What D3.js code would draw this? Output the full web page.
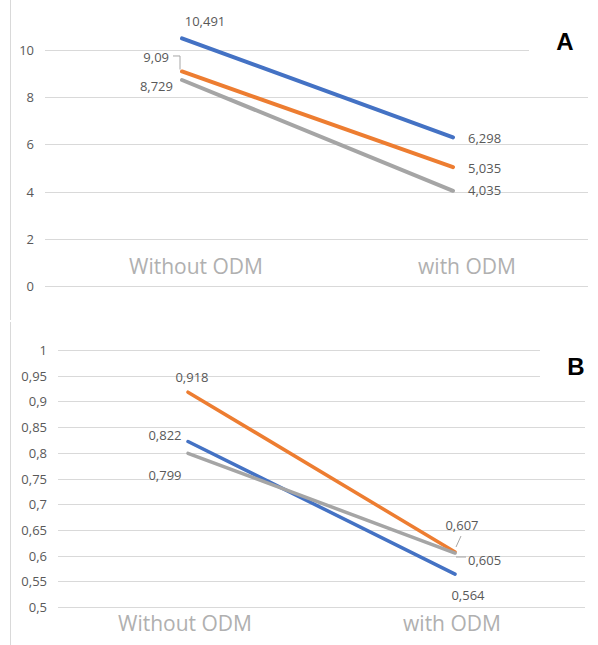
<!DOCTYPE html>
<html><head><meta charset="utf-8">
<script src="https://cdn.jsdelivr.net/npm/d3@7"></script>
<style>body{margin:0;background:#fff}svg{display:block}</style>
</head><body>
<svg id="c" width="598" height="645"></svg>
<script>
const categories = ["Without ODM", "with ODM"];
const seriesNames = ["Series 1", "Series 2", "Series 3"];
const colors = ["#4472C4", "#ED7D31", "#A5A5A5"];
// Panel A
const valuesA = [[10.491, 6.298], [9.09, 5.035], [8.729, 4.035]];
const labelsA = [["10,491", "6,298"], ["9,09", "5,035"], ["8,729", "4,035"]];
const ticksA = [0, 2, 4, 6, 8, 10];
const tickLabelsA = ["0", "2", "4", "6", "8", "10"];
// Panel B
const valuesB = [[0.822, 0.564], [0.918, 0.607], [0.799, 0.605]];
const labelsB = [["0,822", "0,564"], ["0,918", "0,607"], ["0,799", "0,605"]];
const ticksB = [0.5, 0.55, 0.6, 0.65, 0.7, 0.75, 0.8, 0.85, 0.9, 0.95, 1];
const tickLabelsB = ["0,5", "0,55", "0,6", "0,65", "0,7", "0,75", "0,8", "0,85", "0,9", "0,95", "1"];

const svg = d3.select("#c");
const font = "'Open Sans', 'Liberation Sans', sans-serif";
const grid = "#d9d9d9", txt = "#595959";

function panel(cfg) {
  const g = svg.append("g");
  const y = d3.scaleLinear().domain(cfg.domain).range(cfg.yRange);
  const x = d3.scalePoint().domain(categories).range(cfg.xPts);
  // border
  g.append("line").attr("x1", 10.5).attr("x2", 10.5).attr("y1", cfg.border[0]).attr("y2", cfg.border[1])
    .attr("stroke", "#d9d9d9").attr("stroke-width", 1);
  // tick labels
  const ax = d3.axisLeft(y).tickValues(cfg.ticks).tickSize(0).tickPadding(0)
    .tickFormat((d, i) => cfg.tickLabels[i]);
  const ag = g.append("g").attr("transform", `translate(${cfg.tickX},0)`).call(ax);
  ag.select(".domain").remove();
  ag.selectAll("text").attr("font-family", font).attr("font-size", 13).attr("fill", txt).attr("dy", "0.35em");
  // gridlines
  g.selectAll(".gl").data(cfg.ticks).enter().append("line")
    .attr("x1", cfg.gridX[0]).attr("x2", d => y(d) < cfg.shortAbove ? cfg.gridShort : cfg.gridX[1])
    .attr("y1", d => Math.round(y(d)) + 0.5).attr("y2", d => Math.round(y(d)) + 0.5)
    .attr("stroke", grid).attr("stroke-width", 1);
  // category labels
  g.selectAll(".cat").data(categories).enter().append("text")
    .attr("x", d => x(d) + cfg.catDx).attr("y", cfg.catY).attr("text-anchor", "middle")
    .attr("font-family", font).attr("font-size", 21).attr("fill", "#b0b0b0").text(d => d);
  // lines
  const line = d3.line().x((d, i) => x(categories[i])).y(d => y(d));
  cfg.values.forEach((vals, s) => {
    g.append("path").datum(vals).attr("d", line).attr("fill", "none")
      .attr("stroke", colors[s]).attr("stroke-width", cfg.lw).attr("stroke-linecap", "round");
  });
  // data labels
  cfg.values.forEach((vals, s) => {
    vals.forEach((v, i) => {
      const o = cfg.offsets[s][i];
      g.append("text").attr("x", x(categories[i]) + o[0]).attr("y", y(v) + o[1])
        .attr("text-anchor", o[2]).attr("dy", "0.35em")
        .attr("font-family", font).attr("font-size", 13).attr("fill", txt).text(cfg.labels[s][i]);
    });
  });
  // leader lines
  cfg.leaders.forEach(l => {
    const px = x(categories[l.i]), py = y(cfg.values[l.s][l.i]);
    g.append("polyline").attr("points", l.pts.map(p => [px + p[0], py + p[1]].join(",")).join(" "))
      .attr("fill", "none").attr("stroke", "#a6a6a6").attr("stroke-width", 1);
  });
  // panel letter
  g.append("text").attr("x", cfg.letter[0]).attr("y", cfg.letter[1]).attr("text-anchor", "middle")
    .attr("dy", "0.35em").attr("font-family", "'Liberation Sans', Arial, sans-serif")
    .attr("font-weight", "bold").attr("font-size", 24).attr("fill", "#000").text(cfg.letterText);
}

panel({
  domain: [0, 10], yRange: [286, 50], xPts: [182, 453], border: [0, 320],
  ticks: ticksA, tickLabels: tickLabelsA, tickX: 34, gridX: [45, 588], gridShort: 529, shortAbove: 60,
  catY: 274, catDx: 14, lw: 4, values: valuesA, labels: labelsA,
  offsets: [[[23, -17, "middle"], [15, 1, "start"]], [[-13, -14.5, "end"], [15, 1, "start"]], [[-9, 6, "end"], [15, 0, "start"]]],
  leaders: [{s: 1, i: 0, pts: [[-9, -15.5], [-2, -15.5], [-2, -2]]}],
  letter: [565, 42], letterText: "A"
});

panel({
  domain: [0.5, 1], yRange: [607, 350], xPts: [188, 455], border: [322, 645],
  ticks: ticksB, tickLabels: tickLabelsB, tickX: 47, gridX: [58, 585], gridShort: 540, shortAbove: 385,
  catY: 631, catDx: -3, lw: 3.5, values: valuesB, labels: labelsB,
  offsets: [[[-23, -6, "middle"], [13, 21, "middle"]], [[4, -15, "middle"], [7, -27, "middle"]], [[-23, 22, "middle"], [13, 7, "start"]]],
  leaders: [{s: 1, i: 1, pts: [[6, -16], [1, -5]]}, {s: 2, i: 1, pts: [[1, 4], [11, 4]]}],
  letter: [576, 367], letterText: "B"
});
</script>
</body></html>
